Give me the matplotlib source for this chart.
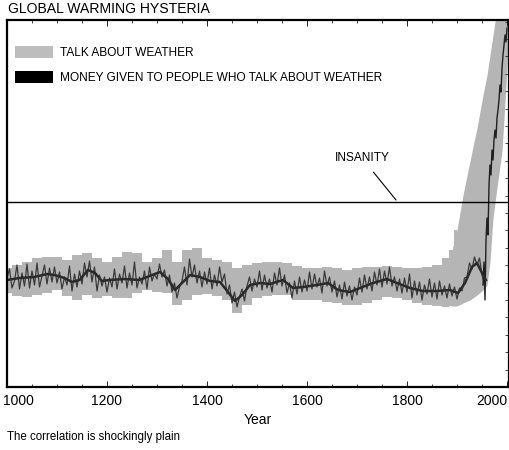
import matplotlib
matplotlib.use("Agg")
import matplotlib.pyplot as plt
from matplotlib.patches import Patch
from matplotlib.ticker import MultipleLocator
import matplotlib.transforms as mtransforms

plt.rcParams['font.family'] = ['Liberation Sans', 'DejaVu Sans']

# ---------------- data (arbitrary units) ----------------
band_years = [1000, 1020, 1040, 1060, 1080, 1100, 1120, 1140, 1160, 1180,
              1200, 1220, 1240, 1260, 1280, 1300, 1320, 1340, 1360, 1380,
              1400, 1420, 1440, 1460, 1480, 1500, 1520, 1540, 1560, 1580,
              1600, 1620, 1640, 1660, 1680, 1700, 1720, 1740, 1760, 1780,
              1800, 1820, 1840, 1860, 1880, 1890, 1900, 1912, 1926, 1940,
              1952, 1960, 1966, 1972, 1978, 1990, 1998, 2004]
band_upper = [11.9, 12.2, 12.5, 12.9, 13.0, 13.0, 12.7, 13.2, 13.4, 12.9,
              12.5, 13.0, 13.5, 13.4, 12.5, 12.9, 13.7, 12.5, 13.7, 13.9,
              12.9, 12.7, 12.5, 11.9, 12.2, 12.4, 12.5, 12.5, 12.4, 12.1,
              11.9, 11.9, 12.0, 11.9, 11.7, 11.9, 12.0, 12.0, 12.1, 12.0,
              11.9, 11.9, 12.0, 12.2, 12.9, 13.7, 15.7, 19.2, 22.6, 25.9,
              29.2, 31.2, 33.2, 35.2, 37.2, 38.7, 38.7, 38.7]
band_lower = [9.4, 9.1, 9.0, 9.2, 9.4, 9.7, 9.1, 8.7, 9.2, 8.9,
              9.1, 8.9, 8.9, 9.4, 9.7, 9.5, 9.4, 8.2, 8.7, 9.2,
              9.3, 9.1, 8.7, 7.4, 8.2, 8.9, 9.1, 9.2, 9.2, 8.7,
              8.7, 8.7, 8.5, 8.4, 8.2, 8.2, 8.4, 8.7, 9.0, 8.9,
              8.7, 8.4, 8.2, 8.1, 8.0, 8.1, 8.1, 8.4, 8.7, 9.2,
              9.7, 10.2, 12.5, 16.9, 19.2, 23.6, 30.2, 35.7]

proxy_years = list(range(1000, 1960, 5))
proxy_values = [
    10.9, 11.8, 9.9, 10.6, 12.2, 9.8, 11.4, 10.1, 12.3, 9.9,
    11.6, 10.2, 12.4, 10.0, 11.1, 12.2, 10.3, 11.9, 10.5, 12.0,
    10.4, 11.5, 9.8, 11.0, 10.2, 12.1, 9.6, 11.3, 10.0, 11.6,
    10.3, 12.4, 11.0, 12.6, 10.5, 12.0, 9.6, 11.2, 10.1, 11.0,
    9.5, 10.9, 10.0, 11.8, 9.8, 11.3, 10.4, 12.1, 9.9, 11.4,
    10.2, 12.5, 9.9, 11.0, 10.3, 11.6, 9.8, 12.0, 10.6, 11.3,
    10.8, 12.3, 11.0, 11.7, 10.1, 11.2, 9.5, 10.4, 8.9, 10.0,
    10.6, 12.0, 10.2, 12.8, 11.0, 12.2, 10.4, 11.6, 10.0, 11.5,
    10.3, 11.9, 9.8, 11.2, 10.1, 12.0, 10.5, 11.3, 9.3, 10.2,
    8.4, 9.5, 8.0, 9.0, 9.8, 8.6, 10.1, 11.0, 9.6, 10.8,
    10.0, 11.6, 9.7, 11.2, 9.9, 10.8, 9.5, 11.4, 10.2, 11.9,
    10.1, 11.2, 9.4, 10.4, 8.9, 10.6, 9.3, 11.0, 9.5, 10.7,
    9.6, 11.5, 9.8, 11.3, 10.0, 10.9, 9.4, 11.6, 10.1, 11.0,
    9.5, 10.6, 9.0, 10.2, 8.8, 10.5, 9.1, 10.1, 8.7, 10.0,
    9.2, 10.9, 9.5, 11.2, 9.8, 11.0, 9.6, 11.5, 10.2, 11.8,
    10.0, 11.6, 10.3, 12.0, 10.1, 11.0, 9.6, 10.8, 9.4, 10.9,
    9.5, 11.3, 8.9, 10.6, 9.2, 10.5, 8.7, 10.2, 9.3, 10.8,
    9.0, 10.4, 8.8, 10.6, 9.2, 10.1, 8.9, 10.3, 9.1, 10.0,
    8.8, 9.9, 9.6, 10.9, 11.0, 12.4, 11.8, 13.0, 12.2, 12.9,
    11.2, 10.3,
]
proxy_years = proxy_years[:len(proxy_values)]

instr_years = [1952, 1954, 1956, 1958, 1960, 1962, 1964, 1966, 1968, 1970,
               1972, 1974, 1976, 1978, 1980, 1982, 1984, 1986, 1988, 1990,
               1992, 1994, 1996, 1998, 2000]
instr_values = [10.2, 12.5, 8.7, 14.7, 16.9, 15.2, 20.2, 22.2, 21.2, 23.7,
                22.7, 24.7, 25.7, 24.9, 26.9, 27.7, 28.7, 30.2, 29.5, 31.9,
                33.2, 34.2, 35.2, 34.5, 35.9]

smooth_years = [1000, 1025, 1055, 1080, 1095, 1115, 1130, 1145, 1162, 1176,
                1190, 1205, 1235, 1265, 1290, 1306, 1322, 1336, 1350, 1366,
                1386, 1406, 1426, 1442, 1456, 1470, 1486, 1506, 1526, 1552,
                1572, 1592, 1620, 1642, 1662, 1686, 1706, 1732, 1760, 1780,
                1806, 1832, 1860, 1886, 1902, 1916, 1930, 1940, 1950, 1958]
smooth_values = [10.7, 10.9, 11.0, 11.3, 11.2, 10.9, 10.5, 10.7, 11.7, 11.4,
                 10.6, 10.7, 10.8, 10.7, 11.2, 11.5, 10.8, 9.7, 10.4, 11.2,
                 11.0, 10.6, 10.5, 9.5, 8.6, 9.2, 10.2, 10.4, 10.3, 10.7,
                 9.9, 10.0, 10.2, 10.4, 9.7, 9.5, 9.9, 10.4, 10.8, 10.4,
                 9.9, 9.6, 9.6, 9.7, 9.4, 10.4, 12.0, 12.4, 11.4, 10.7]

insanity_level = 18.5
x_ticks = [1000, 1200, 1400, 1600, 1800, 2000]
x_tick_labels = ['1000', '1200', '1400', '1600', '1800', '2000']

title_text = 'GLOBAL WARMING HYSTERIA'
legend_labels = ['TALK ABOUT WEATHER', 'MONEY GIVEN TO PEOPLE WHO TALK ABOUT WEATHER']
caption_text = 'The correlation is shockingly plain'

# ---------------- figure ----------------
W, H = 510, 450
fig = plt.figure(figsize=(W / 100, H / 100), dpi=100)
ax = fig.add_axes([7 / W, 1 - 387 / H, (509 - 7) / W, (387 - 20) / H])

band_color = '#b5b5b5'
split = band_years.index(1900)
# flat part: blocky, as in the reference
ax.fill_between(band_years[:split + 1], band_lower[:split + 1],
                band_upper[:split + 1], color=band_color, linewidth=0,
                step='mid')
# rising part: smooth diagonal edges
ax.fill_between(band_years[split - 1:], band_lower[split - 1:],
                band_upper[split - 1:], color=band_color, linewidth=0)
ax.plot(proxy_years, proxy_values, color='#3a3a3a', lw=0.9)
ax.plot(instr_years, instr_values, color='#202020', lw=1.0)
ax.plot(smooth_years, smooth_values, color='#2a2a2a', lw=1.8)

ax.axhline(insanity_level, color='black', lw=1.0)
ax.annotate('INSANITY', xy=(1778, 18.7), xytext=(1710, 22.9),
            ha='center', va='center', fontsize=8.6,
            arrowprops=dict(arrowstyle='-', color='black', lw=0.8,
                            shrinkA=5, shrinkB=0))

ax.set_xlim(1000, 2004)
ax.set_ylim(0, 36.7)

for s in ax.spines.values():
    s.set_linewidth(1.6)

ax.set_xticks(x_ticks)
ax.set_xticklabels(x_tick_labels, fontsize=10)
ax.xaxis.set_minor_locator(MultipleLocator(50))
ax.tick_params(axis='x', which='major', direction='in', length=4, width=0.6,
               top=True, bottom=True, pad=5)
ax.tick_params(axis='x', which='minor', direction='in', length=2, width=0.5,
               top=True, bottom=True)
labels = ax.get_xticklabels()
labels[0].set_horizontalalignment('left')
labels[0].set_transform(labels[0].get_transform() +
                        mtransforms.ScaledTranslation(-4 / 100, 0, fig.dpi_scale_trans))
labels[-1].set_horizontalalignment('right')

ax.yaxis.set_major_locator(MultipleLocator(1.74))
ax.tick_params(axis='y', which='major', direction='in', length=3, width=0.5,
               left=False, right=True, labelleft=False, labelright=False)

ax.set_xlabel('Year', fontsize=10, labelpad=4)

handles = [Patch(facecolor='#bdbdbd', edgecolor='none'),
           Patch(facecolor='black', edgecolor='none')]
fig.legend(handles, legend_labels, loc='upper left',
           bbox_to_anchor=(15 / W, 1 - 46 / H), frameon=False,
           fontsize=8.55, borderpad=0, borderaxespad=0,
           handlelength=3.2, handleheight=1.2, handletextpad=0.6,
           labelspacing=1.0)

fig.text(8 / W, 1 - 9 / H, title_text, fontsize=10.1, ha='left', va='center')
fig.text(7 / W, 1 - 437 / H, caption_text, fontsize=8.3, ha='left', va='center')

fig.savefig('out.png', dpi=100)
